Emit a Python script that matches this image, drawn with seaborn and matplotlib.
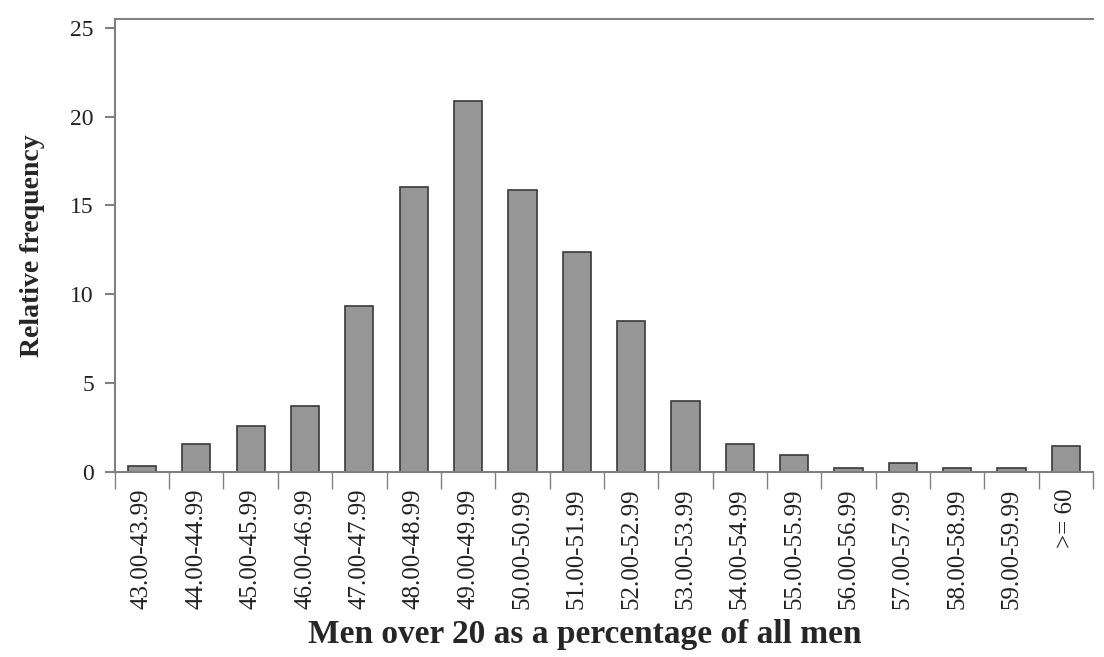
import numpy as np
import pandas as pd
import matplotlib
matplotlib.use("Agg")
import matplotlib.pyplot as plt
import seaborn as sns

# 各区间标签与相对频率
categories = ["43.00-43.99", "44.00-44.99", "45.00-45.99", "46.00-46.99",
              "47.00-47.99", "48.00-48.99", "49.00-49.99", "50.00-50.99",
              "51.00-51.99", "52.00-52.99", "53.00-53.99", "54.00-54.99",
              "55.00-55.99", "56.00-56.99", "57.00-57.99", "58.00-58.99",
              "59.00-59.99", ">= 60"]
rel_freq = [0.3, 1.58, 2.55, 3.68, 9.34, 16.04, 20.88, 15.87, 12.36, 8.5,
            4.0, 1.58, 0.96, 0.19, 0.5, 0.19, 0.19, 1.46]
y_ticks = [0, 5, 10, 15, 20, 25]

sns.set_theme(style="white")
plt.rcParams['font.family'] = ['Liberation Serif', 'DejaVu Serif']

df = pd.DataFrame({'bin': categories, 'freq': rel_freq})

fig = plt.figure(figsize=(11.04, 6.57), dpi=100)
ax = fig.add_axes([0.104, 0.282, 0.886, 0.689])

sns.barplot(data=df, x='bin', y='freq', color='#969696', width=0.52,
            edgecolor='#3a3a3a', linewidth=1.2, saturation=1, ax=ax)

ax.set_xlim(-0.5, len(categories) - 0.5)
ax.set_ylim(0, 25.5)
ax.set_yticks(y_ticks)
ax.set_yticklabels([str(t) for t in y_ticks], fontsize=17, color='#222222')

# 刻度线在类别边界处
ax.set_xticks(np.arange(len(categories)))
ax.set_xticklabels(categories, rotation=90, fontsize=18, color='#222222')
ax.set_xticks(np.arange(len(categories) + 1) - 0.5, minor=True)
ax.tick_params(axis='x', which='major', length=0, pad=12)
ax.tick_params(axis='x', which='minor', length=12, width=1, color='#808080', direction='out', bottom=True)
ax.tick_params(axis='y', length=7, width=1.5, color='#808080', direction='out', left=True, pad=8)

for side in ['left', 'bottom', 'top']:
    ax.spines[side].set_color('#808080')
    ax.spines[side].set_linewidth(1.5)
ax.spines['right'].set_visible(False)

ax.set_xlabel('Men over 20 as a percentage of all men', fontsize=24, fontweight='bold')
ax.xaxis.set_label_coords(0.48, -0.325)
ax.set_ylabel('Relative frequency', fontsize=20, fontweight='bold', labelpad=18)

fig.savefig('out.png', dpi=100)
